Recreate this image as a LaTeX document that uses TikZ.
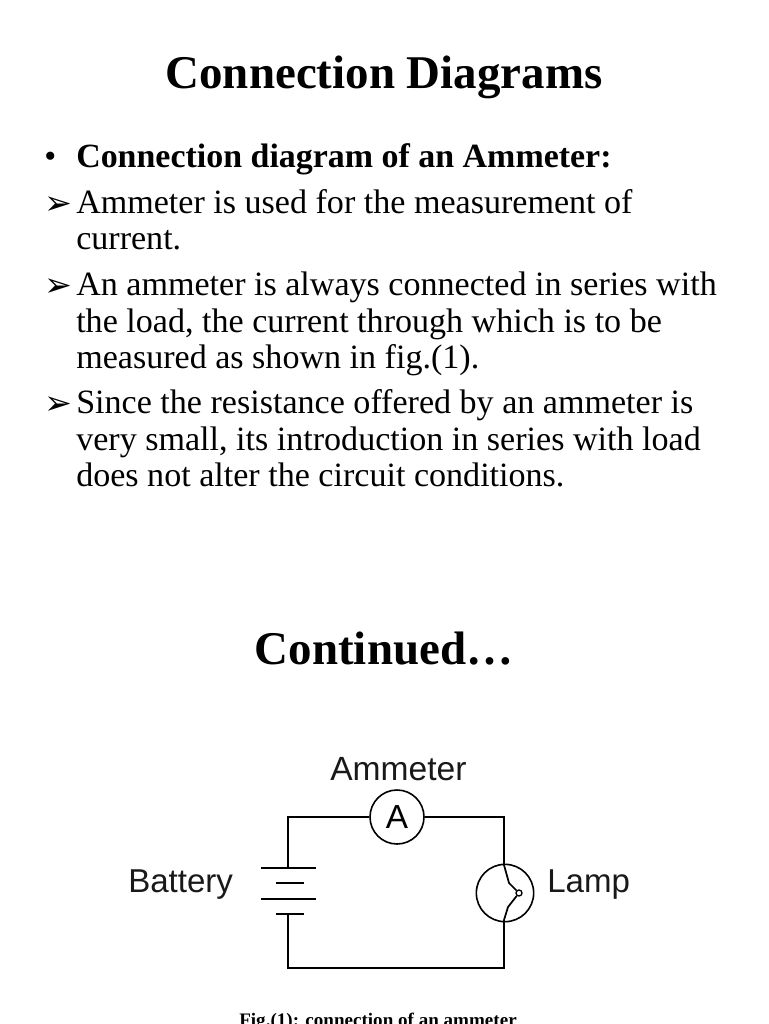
\documentclass[tikz,border=0pt]{standalone}
\usepackage{fontspec}
\setmainfont{Liberation Serif}
\setsansfont{Liberation Sans}
\newfontfamily\arrowfont{DejaVu Sans}
\tikzset{
  textline/.style={anchor=base west,inner sep=0pt,font=\fontsize{25.55}{28}\selectfont},
  headline/.style={anchor=base,inner sep=0pt,font=\fontsize{35.2}{38}\selectfont\bfseries},
  marker/.style={anchor=base west,inner sep=0pt,font=\arrowfont\fontsize{25}{28}\selectfont},
  circuitlabel/.style={anchor=base west,inner sep=0pt,font=\sffamily\fontsize{24.8}{28}\selectfont,text=black!90},
  wire/.style={line width=1.4pt},
  plate/.style={line width=1.3pt},
  meter/.style={draw,circle,line width=1.2pt,minimum size=40.5pt,inner sep=0pt}
}
\begin{document}
\begin{tikzpicture}[x=0.75pt,y=-0.75pt]
\useasboundingbox (0,0) rectangle (768,1024);

\node[headline] (title) at (384,89) {Connection Diagrams};

\node[textline] (dot) at (44,167) {•};
\node[textline,font=\fontsize{25.45}{28}\selectfont\bfseries] (head) at (76,167) {Connection diagram of an Ammeter:};

\node[marker] (markA) at (44,214) {➢};
\node[textline] (lineA) at (76,213) {Ammeter is used for the measurement of};
\node[textline] (lineB) at (76,249) {current.};

\node[marker] (markB) at (44,296) {➢};
\node[textline] (lineC) at (76,295) {An ammeter is always connected in series with};
\node[textline] (lineD) at (76,332) {the load, the current through which is to be};
\node[textline] (lineE) at (76,368) {measured as shown in fig.(1).};

\node[marker] (markC) at (44,414) {➢};
\node[textline] (lineF) at (76,413) {Since the resistance offered by an ammeter is};
\node[textline] (lineG) at (76,450) {very small, its introduction in series with load};
\node[textline] (lineH) at (76,486) {does not alter the circuit conditions.};

\node[headline] (more) at (384,664) {Continued…};

% circuit
\node[meter] (ammeter) at (397,817) {\sffamily\fontsize{25}{28}\selectfont A};
\node[meter,minimum size=43pt] (lamp) at (505,893) {};
\node[draw,circle,line width=1pt,minimum size=4.5pt,inner sep=0pt] (filament) at (519,893) {};

\coordinate (topleft) at (288,818);
\coordinate (topright) at (504,818);
\coordinate (botleft) at (288,968);
\coordinate (botright) at (504,968);
\coordinate (plateA) at (288,868);
\coordinate (plateD) at (288,914);
\coordinate (lamptop) at (504,865);
\coordinate (lampbot) at (504,920);

\draw[wire] (ammeter.west) -- (ammeter.west -| topleft) -- (plateA);
\draw[wire] (ammeter.east) -- (ammeter.east -| topright) -- (lamptop);
\draw[wire,line width=1.6pt] (plateD) -- (botleft) -- (botright) -- (lampbot);

\draw[plate] (261,868) -- (316,868);
\draw[plate] (276,883) -- (304,883);
\draw[line width=1.9pt] (261,899) -- (316,899);
\draw[plate] (276,914) -- (304,914);

\draw[plate] (lamptop) -- (509,883) -- (filament);
\draw[plate] (lampbot) -- (508,907) -- (filament);

\node[circuitlabel,font=\sffamily\fontsize{25.2}{28}\selectfont] (ammeterlabel) at (330,780) {Ammeter};
\node[circuitlabel] (batterylabel) at (128,892) {Battery};
\node[circuitlabel] (lamplabel) at (547,892) {Lamp};

\node[anchor=base,inner sep=0pt,font=\fontsize{14.3}{16}\selectfont\bfseries] (caption) at (378,1026) {Fig.(1): connection of an ammeter};
\end{tikzpicture}
\end{document}
